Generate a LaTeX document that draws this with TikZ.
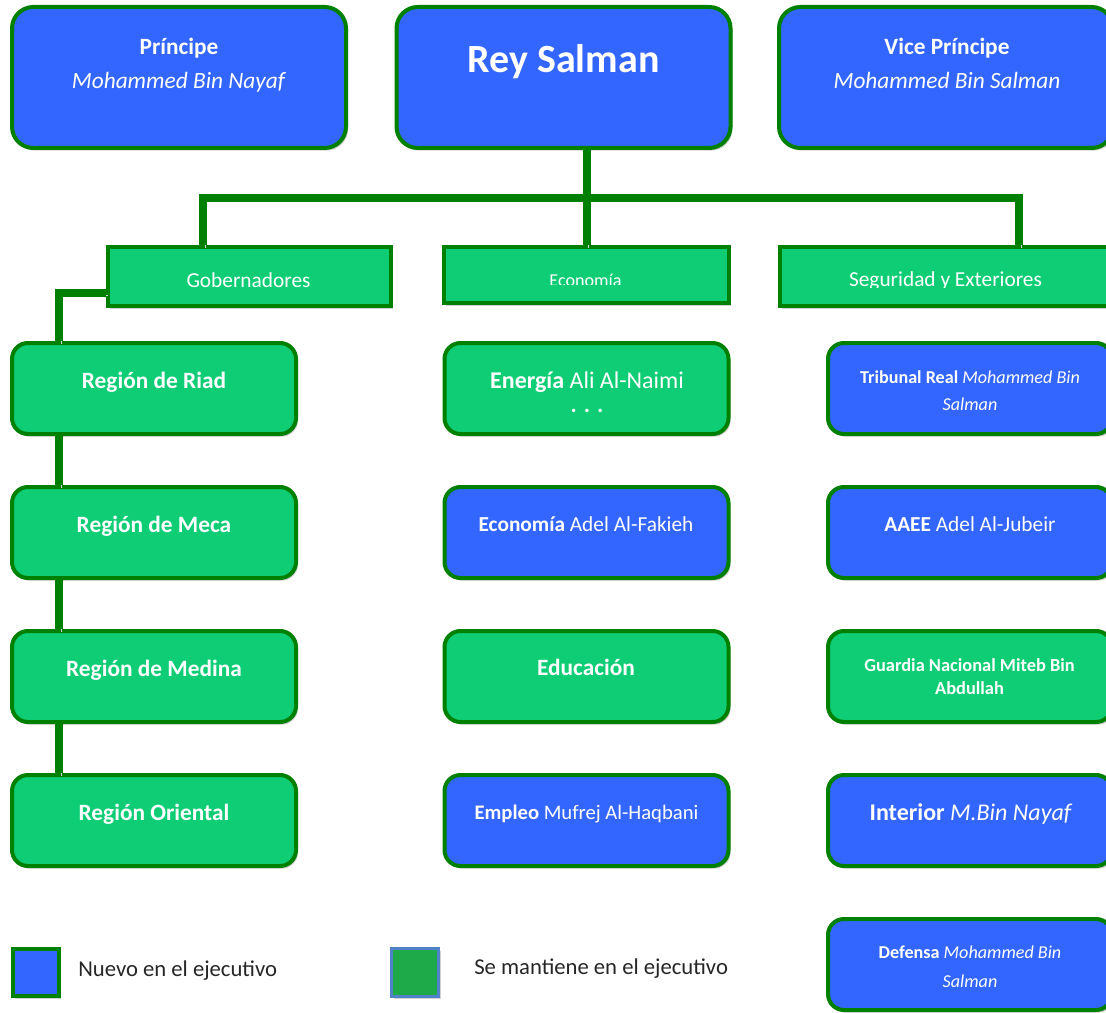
\documentclass[tikz,border=0pt]{standalone}
\usepackage{fontspec}
\setmainfont{Carlito}
\usepackage{tikz}
\usetikzlibrary{shadows}

\definecolor{newblue}{RGB}{51,102,255}
\definecolor{keepgreen}{RGB}{15,205,117}
\definecolor{edgegreen}{RGB}{0,128,0}
\definecolor{keygreen}{RGB}{31,170,74}
\definecolor{keyedge}{RGB}{80,130,200}

\begin{document}
\begin{tikzpicture}[
    x=0.75pt, y=-0.75pt,
    % Defining box styles
    boxshadow/.style={drop shadow={shadow xshift=1.5pt, shadow yshift=-2pt, fill=black!18, opacity=1}},
    topbox/.style={rectangle, rounded corners=16pt, draw=edgegreen, line width=3pt, fill=newblue, minimum width=250.5pt, minimum height=105.75pt, boxshadow},
    groupbox/.style={rectangle, draw=edgegreen, line width=3pt, fill=keepgreen, minimum width=212.25pt, minimum height=44.25pt, boxshadow},
    newbox/.style={rectangle, rounded corners=12pt, draw=edgegreen, line width=3pt, fill=newblue, minimum width=213pt, minimum height=68.25pt, boxshadow},
    keepbox/.style={newbox, fill=keepgreen},
    link/.style={draw=edgegreen, line width=6pt, preaction={draw=black!15, transform canvas={shift={(1.5pt,-2pt)}}}},
    txt/.style={text=white, inner sep=0pt, align=center, anchor=base},
    toptxt/.style={txt, font=\fontsize{17.5}{25.5}\selectfont},
    grouptxt/.style={txt, font=\fontsize{16}{19}\selectfont},
    celltxt/.style={txt, font=\fontsize{17.5}{21}\selectfont},
    smalltxt/.style={txt, font=\fontsize{13.6}{20.25}\selectfont},
    keytxt/.style={text=black!85, inner sep=0pt, anchor=base west, font=\fontsize{17}{20}\selectfont}
  ]
  \useasboundingbox (0,0) rectangle (1106,1013);
  \clip (0,0) rectangle (1106,1013);

  % Top row
  \node[topbox] (prince) at (179,77.5) {};
  \node[topbox] (rey) at (563.5,77.5) {};
  \node[topbox] (vice) at (946,77.5) {};
  \node[toptxt] (princetxt) at (179,89) {\textbf{Príncipe}\\\textit{Mohammed Bin Nayaf}};
  \node[txt, font=\fontsize{30}{36}\selectfont\bfseries] (reytxt) at (563.5,73) {Rey Salman};
  \node[toptxt] (vicetxt) at (947,89) {\textbf{Vice Príncipe}\\\textit{Mohammed Bin Salman}};

  % Group boxes
  \node[groupbox] (gob) at (249.5,276.5) {};
  \node[groupbox, minimum width=213.75pt, minimum height=42pt] (eco) at (586.5,275) {};
  \node[groupbox, minimum width=249pt] (seg) at (946,276.5) {};
  \node[grouptxt] (gobtxt) at (248.5,287) {Gobernadores};
  \begin{scope}
    \clip (442,245) rectangle (731,284.5);
    \node[txt, font=\fontsize{13.6}{16}\selectfont] (ecotxt) at (585.5,286) {Economía};
  \end{scope}
  \begin{scope}
    \clip (778,245) rectangle (1114,287.5);
    \node[grouptxt] (segtxt) at (945.5,286) {Seguridad y Exteriores};
  \end{scope}

  % Regions
  \node[keepbox] (riad) at (154,388.5) {};
  \node[keepbox] (meca) at (154,532.5) {};
  \node[keepbox] (medina) at (154,676.5) {};
  \node[keepbox] (oriental) at (154,820.5) {};
  \node[celltxt] (riadtxt) at (154,388) {\textbf{Región de Riad}};
  \node[celltxt] (mecatxt) at (154,532) {\textbf{Región de Meca}};
  \node[celltxt] (medinatxt) at (154,676) {\textbf{Región de Medina}};
  \node[celltxt] (orientaltxt) at (154,820) {\textbf{Región Oriental}};

  % Economy
  \node[keepbox] (energia) at (586.5,388.5) {};
  \node[newbox] (economia) at (586.5,532.5) {};
  \node[keepbox] (educacion) at (586.5,676.5) {};
  \node[newbox] (empleo) at (586.5,820.5) {};
  \node[celltxt, font=\fontsize{18}{21}\selectfont] (energiatxt) at (587,388) {\textbf{Energía} Ali Al-Naimi};
  \node[celltxt] (energiadots) at (587,412) {\textbf{. . .}};
  \node[celltxt, font=\fontsize{16}{19}\selectfont] (economiatxt) at (586,531) {\textbf{Economía} Adel Al-Fakieh};
  \node[celltxt] (educaciontxt) at (586,675) {\textbf{Educación}};
  \node[celltxt, font=\fontsize{15.5}{19}\selectfont] (empleotxt) at (586.5,819) {\textbf{Empleo} Mufrej Al-Haqbani};

  % Security and foreign affairs
  \node[newbox] (tribunal) at (970,388.5) {};
  \node[newbox] (aaee) at (970,532.5) {};
  \node[keepbox] (guardia) at (970,676.5) {};
  \node[newbox] (interior) at (970,820.5) {};
  \node[newbox] (defensa) at (970,964.5) {};
  \node[smalltxt] (tribunaltxt) at (970,410) {\textbf{Tribunal Real} \textit{Mohammed Bin}\\\textit{Salman}};
  \node[celltxt, font=\fontsize{16}{19}\selectfont] (aaeetxt) at (970,531) {\textbf{AAEE} Adel Al-Jubeir};
  \node[smalltxt, font=\fontsize{13.8}{17.25}\selectfont] (guardiatxt) at (969.5,694) {\textbf{Guardia Nacional Miteb Bin}\\\textbf{Abdullah}};
  \node[celltxt, font=\fontsize{18}{21}\selectfont] (interiortxt) at (971,820) {\textbf{Interior} \textit{M.Bin Nayaf}};
  \node[smalltxt, font=\fontsize{13.6}{21.75}\selectfont] (defensatxt) at (970,987) {\textbf{Defensa} \textit{Mohammed Bin}\\\textit{Salman}};

  % Connectors
  \coordinate (barL) at (203,197.5);
  \coordinate (barR) at (1019,197.5);
  \coordinate (gobL) at (59,293);
  \draw[link] (barL |- gob.north) -- (barL) -- (barR) -- (barR |- seg.north);
  \draw[link] (rey.south -| eco.north) -- (eco.north);
  \draw[link] (gob.west |- gobL) -- (gobL) -- (gobL |- riad.north);
  \draw[link] (riad.south -| gobL) -- (meca.north -| gobL);
  \draw[link] (meca.south -| gobL) -- (medina.north -| gobL);
  \draw[link] (medina.south -| gobL) -- (oriental.north -| gobL);

  % Legend
  \node[rectangle, draw=edgegreen, line width=3pt, fill=newblue, minimum width=34.5pt, minimum height=35.25pt, boxshadow] (newkey) at (35.5,972.5) {};
  \node[rectangle, draw=keyedge, line width=2.25pt, fill=keygreen, minimum width=35.25pt, minimum height=36pt, boxshadow] (keepkey) at (415,972.5) {};
  \node[keytxt] (newkeytxt) at (78,976) {Nuevo en el ejecutivo};
  \node[keytxt] (keepkeytxt) at (474,974) {Se mantiene en el ejecutivo};
\end{tikzpicture}
\end{document}
